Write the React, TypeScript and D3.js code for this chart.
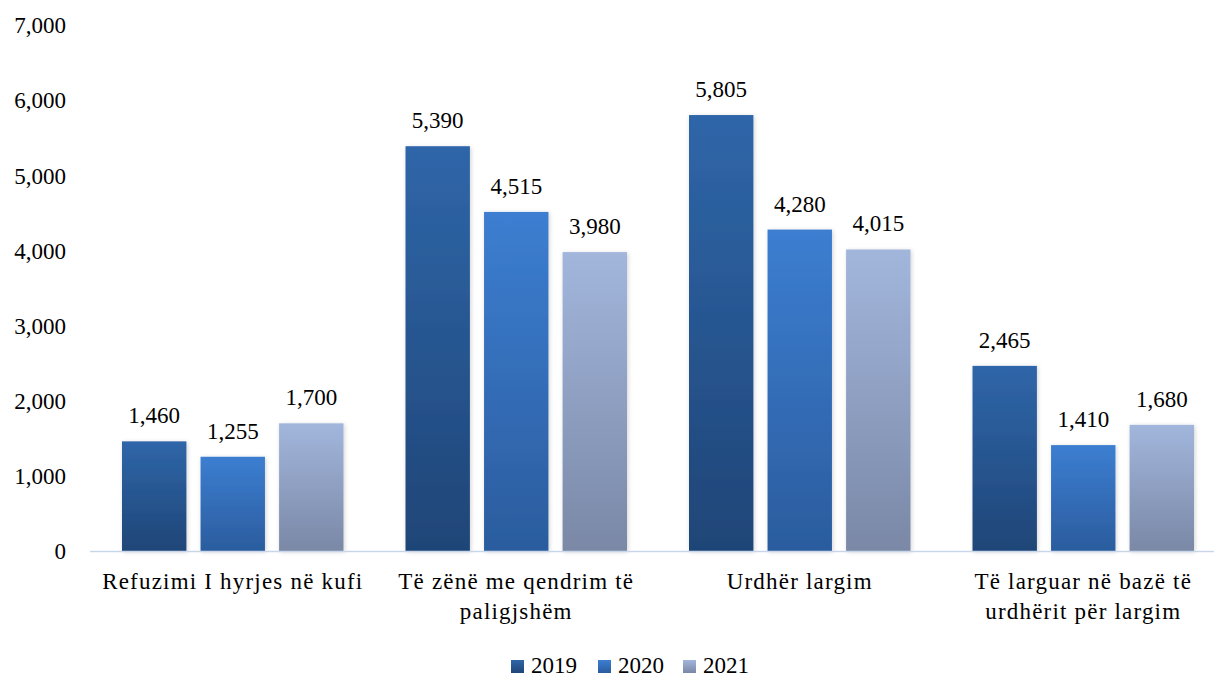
import React from "react";
import * as d3 from "d3";

const categories = [
  ["Refuzimi I hyrjes në kufi"],
  ["Të zënë me qendrim të", "paligjshëm"],
  ["Urdhër largim"],
  ["Të larguar në bazë të", "urdhërit për largim"],
];
const seriesNames = ["2019", "2020", "2021"];
const values2019 = [1460, 5390, 5805, 2465];
const values2020 = [1255, 4515, 4280, 1410];
const values2021 = [1700, 3980, 4015, 1680];
const yTicks = [0, 1000, 2000, 3000, 4000, 5000, 6000, 7000];

const gradients = [
  ["#2F66A9", "#1F4577"],
  ["#3C7ED1", "#2B5C9E"],
  ["#A2B6DC", "#7A88A6"],
];

const W = 1214;
const H = 677;
const FONT = "'Palatino Linotype', 'Book Antiqua', Palatino, 'Liberation Serif', serif";
const FS = 23;

export default function App() {
  const series = [values2019, values2020, values2021];
  const y = d3.scaleLinear().domain([0, 7000]).range([551, 25.3]);
  const x0 = d3.scaleBand<number>().domain(d3.range(categories.length)).range([91, 1225]).padding(0);
  const gw = x0.bandwidth();
  const x1 = d3
    .scaleBand<number>()
    .domain(d3.range(seriesNames.length))
    .range([31, gw - 31])
    .paddingInner(0.18);
  const fmt = d3.format(",");
  const legendX = [511, 598, 683];

  return (
    <svg width={W} height={H} style={{ position: "absolute", left: 0, top: 0 }} fontFamily={FONT}>
      <defs>
        {gradients.map((g, i) => (
          <linearGradient key={i} id={`g${i}`} x1="0" y1="0" x2="0" y2="1">
            <stop offset="0%" stopColor={g[0]} />
            <stop offset="100%" stopColor={g[1]} />
          </linearGradient>
        ))}
        <filter id="sh" x="-20%" y="-5%" width="140%" height="110%">
          <feDropShadow dx="1" dy="1" stdDeviation="2" floodColor="#000" floodOpacity="0.18" />
        </filter>
      </defs>
      <rect width={W} height={H} fill="#fff" />
      {yTicks.map((t) => (
        <text key={t} x={66} y={y(t)} dy="0.35em" textAnchor="end" fontSize={FS} fill="#000">
          {fmt(t)}
        </text>
      ))}
      {categories.map((c, ci) => (
        <g key={ci} transform={`translate(${x0(ci)},0)`}>
          {series.map((s, si) => (
            <g key={si}>
              <rect
                x={x1(si)}
                y={y(s[ci])}
                width={x1.bandwidth()}
                height={y(0) - y(s[ci])}
                fill={`url(#g${si})`}
                filter="url(#sh)"
              />
              <text
                x={(x1(si) as number) + x1.bandwidth() / 2}
                y={y(s[ci]) - 18}
                textAnchor="middle"
                fontSize={FS}
                fill="#000"
              >
                {fmt(s[ci])}
              </text>
            </g>
          ))}
          {c.map((line, li) => (
            <text
              key={li}
              x={gw / 2}
              y={589 + li * 30}
              textAnchor="middle"
              fontSize={FS}
              letterSpacing={1.2}
              fill="#000"
            >
              {line}
            </text>
          ))}
        </g>
      ))}
      <line x1={90} x2={W} y1={551.5} y2={551.5} stroke="#C9D5E8" strokeWidth={1.5} />
      {seriesNames.map((n, i) => (
        <g key={n} transform={`translate(${legendX[i]},660)`}>
          <rect x={0} y={0} width={13} height={13} fill={`url(#g${i})`} />
          <text x={20} y={13} fontSize={FS} fill="#000">
            {n}
          </text>
        </g>
      ))}
    </svg>
  );
}
